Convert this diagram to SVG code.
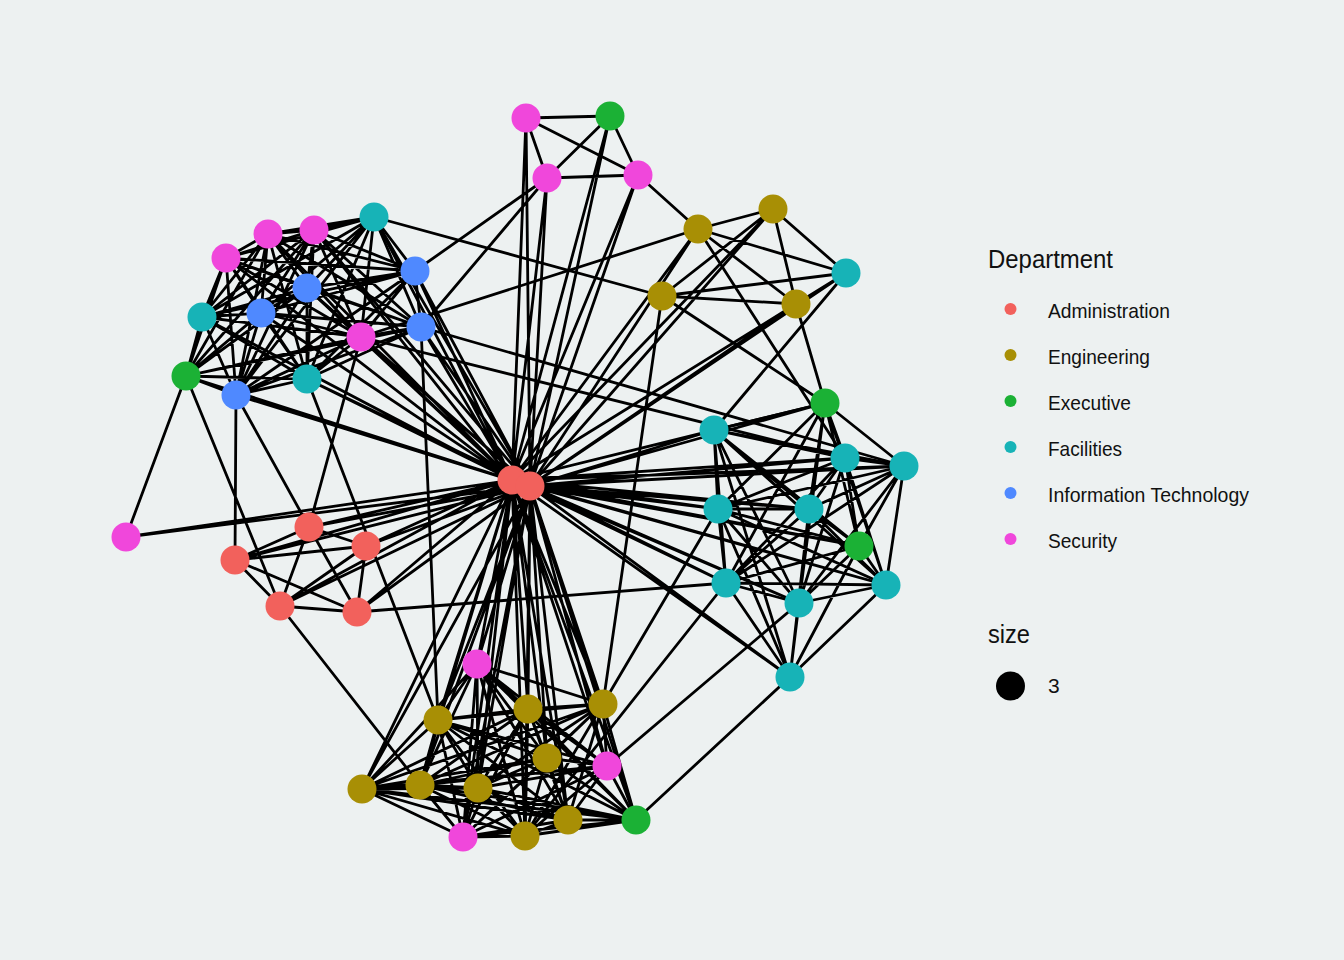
<svg xmlns="http://www.w3.org/2000/svg" width="1344" height="960" viewBox="0 0 1344 960">
<style>
.e{stroke:#000;stroke-width:2.8;fill:none;stroke-linecap:round}
.ad{fill:#F2615C}.en{fill:#A88F05}.ex{fill:#1BB135}.fa{fill:#17B3B7}.it{fill:#4F89FF}.se{fill:#F047DB}
.t{font-family:"Liberation Sans",Arial,sans-serif;fill:#111}
</style>
<rect width="1344" height="960" fill="#EDF1F1"/>
<g id="connectors">
<path class="e" d="M226 258L268 234M226 258L314 230M226 258L374 217M226 258L415 271M226 258L307 288M226 258L261 313M226 258L202 317M226 258L361 337M226 258L421 327M226 258L186 376M226 258L236 395M226 258L307 379M268 234L314 230M268 234L374 217M268 234L415 271M268 234L307 288M268 234L261 313M268 234L202 317M268 234L361 337M268 234L421 327M268 234L186 376M268 234L236 395M268 234L307 379M314 230L374 217M314 230L415 271M314 230L307 288M314 230L261 313M314 230L202 317M314 230L361 337M314 230L421 327M314 230L186 376M314 230L236 395M314 230L307 379M374 217L415 271M374 217L307 288M374 217L261 313M374 217L202 317M374 217L361 337M374 217L421 327M374 217L236 395M374 217L307 379M415 271L307 288M415 271L261 313M415 271L202 317M415 271L361 337M415 271L421 327M415 271L236 395M415 271L307 379M307 288L261 313M307 288L202 317M307 288L361 337M307 288L421 327M307 288L186 376M307 288L236 395M307 288L307 379M261 313L202 317M261 313L361 337M261 313L421 327M261 313L186 376M261 313L236 395M261 313L307 379M202 317L361 337M202 317L186 376M202 317L236 395M202 317L307 379M361 337L421 327M361 337L186 376M361 337L236 395M361 337L307 379M421 327L186 376M421 327L236 395M421 327L307 379M186 376L236 395M186 376L307 379M236 395L307 379"/>
<path class="e" d="M374 217L512 480M415 271L512 480M421 327L512 480M361 337L512 480M307 288L512 480M261 313L512 480M307 379L512 480M236 395L512 480M314 230L512 480M268 234L512 480M202 317L512 480M186 376L512 480M226 258L512 480M374 217L530 486M415 271L530 486M421 327L530 486M361 337L530 486M236 395L530 486M307 379L530 486M314 230L530 486M307 288L530 486"/>
<path class="e" d="M526 118L610 116M526 118L547 178M526 118L638 175M547 178L610 116M547 178L638 175M610 116L638 175M526 118L512 480M526 118L530 486M547 178L512 480M547 178L530 486M610 116L512 480M610 116L530 486M638 175L512 480M638 175L530 486M638 175L698 229M547 178L415 271M547 178L421 327"/>
<path class="e" d="M698 229L773 209M698 229L796 304M698 229L846 273M773 209L662 296M773 209L796 304M773 209L846 273M662 296L796 304M662 296L846 273M796 304L846 273M698 229L512 480M698 229L530 486M773 209L512 480M773 209L530 486M796 304L512 480M796 304L530 486M846 273L512 480M846 273L530 486M846 273L714 430M796 304L825 403M662 296L825 403M698 229L845 458M662 296L603 704M374 217L662 296M361 337L698 229M421 327L904 466M361 337L845 458"/>
<path class="e" d="M309 527L366 546M309 527L235 560M309 527L280 606M309 527L357 612M366 546L235 560M366 546L280 606M366 546L357 612M235 560L280 606M235 560L357 612M280 606L357 612M309 527L512 480M309 527L530 486M366 546L512 480M366 546L530 486M235 560L512 480M235 560L530 486M280 606L512 480M280 606L530 486M357 612L512 480M357 612L530 486M126 537L512 480M126 537L530 486M126 537L186 376M186 376L280 606M236 395L235 560M236 395L309 527M361 337L309 527M307 379L438 720M421 327L438 720M280 606L420 785M357 612L726 583M512 480L530 486"/>
<path class="e" d="M825 403L714 430M825 403L845 458M825 403L904 466M825 403L718 509M825 403L809 509M825 403L859 546M825 403L726 583M825 403L799 603M825 403L886 585M714 430L845 458M714 430L904 466M714 430L718 509M714 430L809 509M714 430L859 546M714 430L726 583M714 430L799 603M714 430L886 585M714 430L790 677M845 458L904 466M845 458L718 509M845 458L809 509M845 458L859 546M845 458L726 583M845 458L799 603M845 458L886 585M904 466L718 509M904 466L809 509M904 466L859 546M904 466L726 583M904 466L799 603M904 466L886 585M718 509L809 509M718 509L859 546M718 509L726 583M718 509L799 603M718 509L886 585M718 509L790 677M809 509L859 546M809 509L726 583M809 509L799 603M809 509L886 585M809 509L790 677M859 546L726 583M859 546L799 603M859 546L886 585M859 546L790 677M726 583L799 603M726 583L886 585M726 583L790 677M799 603L886 585M799 603L790 677M886 585L790 677"/>
<path class="e" d="M825 403L512 480M825 403L530 486M714 430L512 480M714 430L530 486M845 458L512 480M845 458L530 486M904 466L512 480M904 466L530 486M718 509L512 480M718 509L530 486M809 509L512 480M809 509L530 486M859 546L512 480M859 546L530 486M726 583L512 480M726 583L530 486M799 603L512 480M799 603L530 486M886 585L512 480M886 585L530 486M790 677L512 480M790 677L530 486M607 766L799 603M525 836L726 583M603 704L718 509M636 820L790 677"/>
<path class="e" d="M477 664L438 720M477 664L528 709M477 664L603 704M477 664L547 758M477 664L607 766M477 664L362 789M477 664L420 785M477 664L478 788M477 664L568 820M477 664L636 820M477 664L463 837M477 664L525 836M438 720L528 709M438 720L603 704M438 720L547 758M438 720L607 766M438 720L362 789M438 720L420 785M438 720L478 788M438 720L568 820M438 720L636 820M438 720L463 837M438 720L525 836M528 709L603 704M528 709L547 758M528 709L607 766M528 709L362 789M528 709L420 785M528 709L478 788M528 709L568 820M528 709L636 820M528 709L463 837M528 709L525 836M603 704L547 758M603 704L607 766M603 704L362 789M603 704L420 785M603 704L478 788M603 704L568 820M603 704L636 820M603 704L463 837M603 704L525 836M547 758L607 766M547 758L362 789M547 758L420 785M547 758L478 788M547 758L568 820M547 758L636 820M547 758L463 837M547 758L525 836M607 766L362 789M607 766L420 785M607 766L478 788M607 766L568 820M607 766L636 820M607 766L463 837M607 766L525 836M362 789L420 785M362 789L478 788M362 789L568 820M362 789L636 820M362 789L463 837M362 789L525 836M420 785L478 788M420 785L568 820M420 785L636 820M420 785L463 837M420 785L525 836M478 788L568 820M478 788L636 820M478 788L463 837M478 788L525 836M568 820L636 820M568 820L463 837M568 820L525 836M636 820L463 837M636 820L525 836M463 837L525 836"/>
<path class="e" d="M477 664L512 480M477 664L530 486M438 720L512 480M438 720L530 486M528 709L512 480M528 709L530 486M603 704L512 480M603 704L530 486M547 758L512 480M547 758L530 486M607 766L512 480M607 766L530 486M362 789L512 480M362 789L530 486M420 785L512 480M420 785L530 486M478 788L512 480M478 788L530 486M568 820L512 480M568 820L530 486M636 820L512 480M636 820L530 486M463 837L512 480M463 837L530 486M525 836L512 480M525 836L530 486"/>
</g>
<g id="nodes">
<g id="n_S1"><circle class="se" cx="526" cy="118" r="14.5"/></g>
<g id="n_E1"><circle class="ex" cx="610" cy="116" r="14.5"/></g>
<g id="n_S2"><circle class="se" cx="547" cy="178" r="14.5"/></g>
<g id="n_S3"><circle class="se" cx="638" cy="175" r="14.5"/></g>
<g id="n_G1"><circle class="en" cx="698" cy="229" r="14.5"/></g>
<g id="n_G2"><circle class="en" cx="773" cy="209" r="14.5"/></g>
<g id="n_G3"><circle class="en" cx="662" cy="296" r="14.5"/></g>
<g id="n_G4"><circle class="en" cx="796" cy="304" r="14.5"/></g>
<g id="n_F1"><circle class="fa" cx="846" cy="273" r="14.5"/></g>
<g id="n_S4"><circle class="se" cx="226" cy="258" r="14.5"/></g>
<g id="n_S5"><circle class="se" cx="268" cy="234" r="14.5"/></g>
<g id="n_S6"><circle class="se" cx="314" cy="230" r="14.5"/></g>
<g id="n_F2"><circle class="fa" cx="374" cy="217" r="14.5"/></g>
<g id="n_I1"><circle class="it" cx="415" cy="271" r="14.5"/></g>
<g id="n_I2"><circle class="it" cx="307" cy="288" r="14.5"/></g>
<g id="n_I3"><circle class="it" cx="261" cy="313" r="14.5"/></g>
<g id="n_F3"><circle class="fa" cx="202" cy="317" r="14.5"/></g>
<g id="n_S7"><circle class="se" cx="361" cy="337" r="14.5"/></g>
<g id="n_I4"><circle class="it" cx="421" cy="327" r="14.5"/></g>
<g id="n_X1"><circle class="ex" cx="186" cy="376" r="14.5"/></g>
<g id="n_I5"><circle class="it" cx="236" cy="395" r="14.5"/></g>
<g id="n_F4"><circle class="fa" cx="307" cy="379" r="14.5"/></g>
<g id="n_A1"><circle class="ad" cx="512" cy="480" r="14.5"/></g>
<g id="n_A2"><circle class="ad" cx="530" cy="486" r="14.5"/></g>
<g id="n_S8"><circle class="se" cx="126" cy="537" r="14.5"/></g>
<g id="n_A3"><circle class="ad" cx="309" cy="527" r="14.5"/></g>
<g id="n_A4"><circle class="ad" cx="366" cy="546" r="14.5"/></g>
<g id="n_A5"><circle class="ad" cx="235" cy="560" r="14.5"/></g>
<g id="n_A6"><circle class="ad" cx="280" cy="606" r="14.5"/></g>
<g id="n_A7"><circle class="ad" cx="357" cy="612" r="14.5"/></g>
<g id="n_X2"><circle class="ex" cx="825" cy="403" r="14.5"/></g>
<g id="n_F5"><circle class="fa" cx="714" cy="430" r="14.5"/></g>
<g id="n_F6"><circle class="fa" cx="845" cy="458" r="14.5"/></g>
<g id="n_F7"><circle class="fa" cx="904" cy="466" r="14.5"/></g>
<g id="n_F8"><circle class="fa" cx="718" cy="509" r="14.5"/></g>
<g id="n_F9"><circle class="fa" cx="809" cy="509" r="14.5"/></g>
<g id="n_X3"><circle class="ex" cx="859" cy="546" r="14.5"/></g>
<g id="n_F10"><circle class="fa" cx="726" cy="583" r="14.5"/></g>
<g id="n_F11"><circle class="fa" cx="799" cy="603" r="14.5"/></g>
<g id="n_F12"><circle class="fa" cx="886" cy="585" r="14.5"/></g>
<g id="n_F13"><circle class="fa" cx="790" cy="677" r="14.5"/></g>
<g id="n_S9"><circle class="se" cx="477" cy="664" r="14.5"/></g>
<g id="n_G5"><circle class="en" cx="438" cy="720" r="14.5"/></g>
<g id="n_G6"><circle class="en" cx="528" cy="709" r="14.5"/></g>
<g id="n_G7"><circle class="en" cx="603" cy="704" r="14.5"/></g>
<g id="n_G8"><circle class="en" cx="547" cy="758" r="14.5"/></g>
<g id="n_S10"><circle class="se" cx="607" cy="766" r="14.5"/></g>
<g id="n_G9"><circle class="en" cx="362" cy="789" r="14.5"/></g>
<g id="n_G10"><circle class="en" cx="420" cy="785" r="14.5"/></g>
<g id="n_G11"><circle class="en" cx="478" cy="788" r="14.5"/></g>
<g id="n_G12"><circle class="en" cx="568" cy="820" r="14.5"/></g>
<g id="n_X4"><circle class="ex" cx="636" cy="820" r="14.5"/></g>
<g id="n_S11"><circle class="se" cx="463" cy="837" r="14.5"/></g>
<g id="n_G13"><circle class="en" cx="525" cy="836" r="14.5"/></g>
</g>
<g id="legend">
<text class="t" x="988" y="268" font-size="25" textLength="125" lengthAdjust="spacingAndGlyphs">Department</text>
<circle class="ad" cx="1010.5" cy="309" r="6"/>
<text class="t" x="1048" y="318" font-size="21" textLength="122" lengthAdjust="spacingAndGlyphs">Administration</text>
<circle class="en" cx="1010.5" cy="355" r="6"/>
<text class="t" x="1048" y="364" font-size="21" textLength="102" lengthAdjust="spacingAndGlyphs">Engineering</text>
<circle class="ex" cx="1010.5" cy="401" r="6"/>
<text class="t" x="1048" y="410" font-size="21" textLength="83" lengthAdjust="spacingAndGlyphs">Executive</text>
<circle class="fa" cx="1010.5" cy="447" r="6"/>
<text class="t" x="1048" y="456" font-size="21" textLength="74" lengthAdjust="spacingAndGlyphs">Facilities</text>
<circle class="it" cx="1010.5" cy="493" r="6"/>
<text class="t" x="1048" y="502" font-size="21" textLength="201" lengthAdjust="spacingAndGlyphs">Information Technology</text>
<circle class="se" cx="1010.5" cy="539" r="6"/>
<text class="t" x="1048" y="548" font-size="21" textLength="69" lengthAdjust="spacingAndGlyphs">Security</text>
<text class="t" x="988" y="643" font-size="25" textLength="42" lengthAdjust="spacingAndGlyphs">size</text>
<circle cx="1010.5" cy="686" r="14.5" fill="#000"/>
<text class="t" x="1048" y="693" font-size="21">3</text>
</g>
</svg>
